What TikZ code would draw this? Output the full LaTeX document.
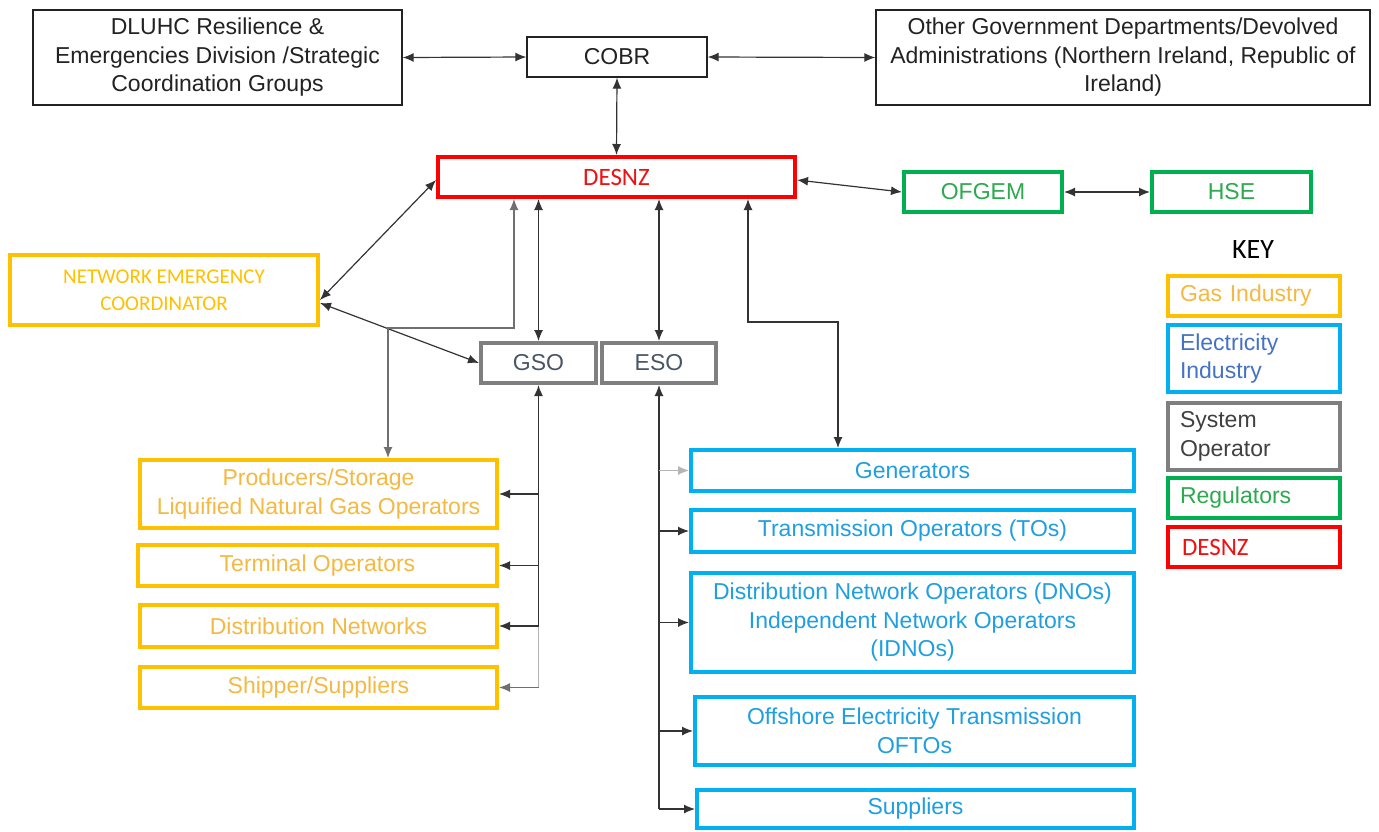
\documentclass[tikz,border=0pt]{standalone}
\usepackage{fontspec}
\setmainfont{Liberation Sans}
\newfontfamily\calfont{Carlito}
\usetikzlibrary{arrows.meta,calc}
\definecolor{gasB}{HTML}{FFC000}
\definecolor{gasT}{HTML}{F4B942}
\definecolor{necT}{HTML}{FFC000}
\definecolor{eleB}{HTML}{00B0F0}
\definecolor{eleT}{HTML}{1F9FE0}
\definecolor{keyEleT}{HTML}{4472C4}
\definecolor{sysB}{HTML}{7F7F7F}
\definecolor{sysT}{HTML}{4A5565}
\definecolor{sysKeyT}{HTML}{404040}
\definecolor{regB}{HTML}{00B050}
\definecolor{regT}{HTML}{2DA94F}
\definecolor{desB}{HTML}{FF0000}
\definecolor{desT}{HTML}{EE1111}
\definecolor{blk}{HTML}{222222}
\definecolor{lineC}{HTML}{333333}
\definecolor{lightC}{HTML}{B5B5B5}
\definecolor{midC}{HTML}{707070}
\begin{document}
\begin{tikzpicture}[x=1pt,y=-1pt,
  font=\fontsize{23}{28.5}\selectfont,
  >={Latex[length=11pt,width=9pt]},
  tbox/.style={draw=blk, line width=1.3pt, rectangle, align=center, inner sep=0pt, text=blk},
  cbox/.style={draw, line width=4pt, rectangle, align=center, inner sep=0pt},
  gasbox/.style={cbox, draw=gasB, text=gasT},
  elebox/.style={cbox, draw=eleB, text=eleT},
  sysbox/.style={cbox, draw=sysB, text=sysT},
  regbox/.style={cbox, draw=regB, text=regT},
  desbox/.style={cbox, draw=desB, text=desT},
  kbox/.style={cbox, minimum width=172pt, text width=148pt, align=left, inner xsep=12pt},
  conn/.style={line width=1.2pt, draw=lineC},
  lconn/.style={line width=1.2pt, draw=lightC},
  mconn/.style={line width=1.2pt, draw=midC}
]
\useasboundingbox (0,0) rectangle (1379,831);
\fill[white] (0,0) rectangle (1379,831);

% top row
\node[tbox, minimum width=369pt, minimum height=95pt] (dluhc) at (217.5,57.5)
  {DLUHC Resilience \&\\Emergencies Division /Strategic\\Coordination Groups};
\node[tbox, minimum width=180pt, minimum height=40pt] (cobr) at (617,57) {COBR};
\node[tbox, minimum width=494pt, minimum height=95pt] (other) at (1123,57.5)
  {Other Government Departments/Devolved\\Administrations (Northern Ireland, Republic of\\Ireland)};

% DESNZ and regulators
\node[desbox, minimum width=357pt, minimum height=40pt, font=\calfont\fontsize{25}{28}\selectfont] (desnz) at (616.5,177) {DESNZ};
\node[regbox, minimum width=158pt, minimum height=40pt] (ofgem) at (983,192) {OFGEM};
\node[regbox, minimum width=159pt, minimum height=40pt] (hse) at (1231.5,192) {HSE};

% NEC
\node[cbox, draw=gasB, text=necT, minimum width=308pt, minimum height=70pt, font=\calfont\fontsize{21}{27}\selectfont] (nec) at (164,290)
  {NETWORK EMERGENCY\\COORDINATOR};

% system operators
\node[sysbox, minimum width=115pt, minimum height=40pt] (gso) at (538.5,363) {GSO};
\node[sysbox, minimum width=114pt, minimum height=40pt] (eso) at (659,363) {ESO};

% gas industry
\node[gasbox, minimum width=357pt, minimum height=68pt] (prod) at (318.5,494)
  {Producers/Storage\\Liquified Natural Gas Operators};
\node[gasbox, minimum width=359pt, minimum height=41pt] (term) at (317.5,565.5) {Terminal Operators};
\node[gasbox, minimum width=357pt, minimum height=42pt] (dist) at (318.5,626) {Distribution Networks};
\node[gasbox, minimum width=357pt, minimum height=41pt] (ship) at (318.5,687.5) {Shipper/Suppliers};

% electricity industry
\node[elebox, minimum width=443pt, minimum height=41pt] (gen) at (912.5,470.5) {Generators};
\node[elebox, minimum width=443pt, minimum height=42pt] (tos) at (912.5,531) {Transmission Operators (TOs)};
\node[elebox, minimum width=443pt, minimum height=99pt] (dno) at (912.5,622.5)
  {Distribution Network Operators (DNOs)\\Independent Network Operators\\(IDNOs)};
\node[elebox, minimum width=439pt, minimum height=68pt] (off) at (914.5,731)
  {Offshore Electricity Transmission\\OFTOs};
\node[elebox, minimum width=437pt, minimum height=38pt] (sup) at (915.5,809) {Suppliers};

% key
\node[font=\calfont\fontsize{28}{30}\selectfont, text=black] (keyt) at (1253,250) {KEY};
\node[kbox, draw=gasB, text=gasT, minimum height=40pt] (kgas) at (1254,296) {Gas Industry};
\node[kbox, draw=eleB, text=keyEleT, minimum height=67pt] (kele) at (1254,358.5) {Electricity\\Industry};
\node[kbox, draw=sysB, text=sysKeyT, minimum height=67pt] (ksys) at (1254,436.5) {System\\Operator};
\node[kbox, draw=regB, text=regT, minimum height=40pt] (kreg) at (1254,498) {Regulators};
\node[kbox, draw=desB, text=desT, minimum height=40pt, font=\calfont\fontsize{25}{28}\selectfont, inner xsep=14pt, text width=144pt] (kdes) at (1254,547) {DESNZ};

% connectors top
\draw[conn,<->] (dluhc.east) -- (cobr.west);
\draw[conn,<->] (cobr.east) -- (other.west);
\draw[conn,<->] (cobr.south) -- (desnz.north);
\draw[conn,<->] ([yshift=-3pt]desnz.east) -- (ofgem.west);
\draw[conn,<->] (ofgem.east) -- (hse.west);

% DESNZ - NEC, NEC - GSO
\draw[conn,<->] ([yshift=-3pt]desnz.west) -- ([yshift=-10pt]nec.east);
\draw[conn,<->] ([yshift=-13pt]nec.east) -- (gso.west);

% DESNZ - Producers (grey route)
\coordinate (p1) at (514,328);
\coordinate (p2) at (388,328);
\draw[mconn,<->] (desnz.south -| p1) -- (p1) -- (p2) -- (p2 |- prod.north);

% DESNZ - GSO / ESO
\draw[conn,<->] (gso.north |- desnz.south) -- (gso.north);
\draw[conn,<->] (eso.north |- desnz.south) -- (eso.north);

% DESNZ - Generators
\coordinate (g1) at (748,322);
\coordinate (g2) at (838,322);
\draw[conn,<->] (desnz.south -| g1) -- (g1) -- (g2) -- (g2 |- gen.north);

% GSO bus to gas industry
\draw[conn,<-,line width=1.6pt] (gso.south) -- (gso.south |- dist.east);
\draw[lconn] (gso.south |- dist.east) -- (gso.south |- ship.east);
\draw[conn,->] (gso.south |- prod.east) -- (prod.east);
\draw[conn,->] (gso.south |- term.east) -- (term.east);
\draw[conn,->] (gso.south |- dist.east) -- (dist.east);
\draw[mconn,->] (gso.south |- ship.east) -- (ship.east);

% ESO bus to electricity industry
\draw[conn,<-] (eso.south) -- (eso.south |- sup.west);
\draw[lconn,->] (eso.south |- gen.west) -- (gen.west);
\draw[conn,->] (eso.south |- tos.west) -- (tos.west);
\draw[conn,->] (eso.south |- dno.west) -- (dno.west);
\draw[conn,->] (eso.south |- off.west) -- (off.west);
\draw[conn,->] (eso.south |- sup.west) -- (sup.west);
\end{tikzpicture}
\end{document}
